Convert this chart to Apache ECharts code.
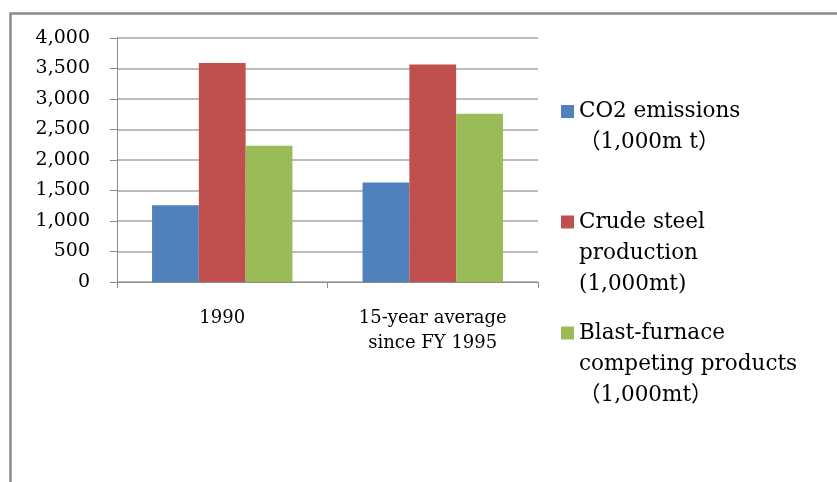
<!DOCTYPE html>
<html>
<head>
<meta charset="utf-8">
<script src="https://cdn.jsdelivr.net/npm/echarts@6/dist/echarts.min.js"></script>
<style>
  html, body { margin: 0; padding: 0; background: #ffffff; }
  #chart { width: 837px; height: 482px; }
</style>
</head>
<body>
<div id="chart"></div>
<script>
// Categories and series values (thousand tonnes)
const categories = ['1990', '15-year average\nsince FY 1995'];
const co2Emissions = [1260, 1630];
const crudeSteel = [3590, 3565];
const blastFurnaceCompeting = [2235, 2760];

const seriesNames = [
  'CO2 emissions\n（1,000m t）',
  'Crude steel\nproduction\n(1,000mt)',
  'Blast-furnace\ncompeting products\n（1,000mt）'
];
const seriesColors = ['#4F81BD', '#C0504D', '#9BBB59'];

const yMin = 0, yMax = 4000, yStep = 500;

const FONT = '"DejaVu Serif", "Noto Sans CJK JP", serif';
const LEGEND_LINE = 31;

// One legend block per series; blank lines are prepended so the
// square marker lines up with the first line of a multi-line name
function legendBlock(name, centerY) {
  const lines = name.split('\n').length;
  return {
    orient: 'vertical',
    left: 561,
    top: centerY - (2 * lines - 1) * LEGEND_LINE / 2,
    padding: 0,
    itemWidth: 13,
    itemHeight: 13,
    icon: 'rect',
    data: [name],
    formatter: n => ' \n'.repeat(lines - 1) + n,
    textStyle: {
      fontFamily: FONT,
      fontSize: 21.5,
      color: '#000000',
      lineHeight: LEGEND_LINE
    }
  };
}

const chart = echarts.init(document.getElementById('chart'), null, { renderer: 'canvas' });

chart.setOption({
  animation: false,
  backgroundColor: '#ffffff',
  color: seriesColors,
  graphic: [{
    type: 'polyline',
    shape: { points: [[10.5, 482], [10.5, 13.5], [837, 13.5]] },
    style: { stroke: '#8c8c8c', lineWidth: 2.5, fill: null }
  }],
  legend: [
    legendBlock(seriesNames[0], 111.5),
    legendBlock(seriesNames[1], 222),
    legendBlock(seriesNames[2], 333)
  ],
  grid: { left: 117, right: 299, top: 38, bottom: 200, containLabel: false },
  xAxis: {
    type: 'category',
    data: categories,
    axisLine: { show: true, lineStyle: { color: '#8c8c8c', width: 1 } },
    axisTick: { show: true, length: 6, alignWithLabel: false, lineStyle: { color: '#8c8c8c' } },
    axisLabel: {
      interval: 0,
      margin: 24,
      fontFamily: FONT,
      fontSize: 18,
      lineHeight: 25,
      color: '#000000'
    },
    splitLine: { show: false }
  },
  yAxis: {
    type: 'value',
    min: yMin,
    max: yMax,
    interval: yStep,
    axisLine: { show: true, lineStyle: { color: '#8c8c8c', width: 1 } },
    axisTick: { show: true, length: 7, lineStyle: { color: '#8c8c8c' } },
    axisLabel: {
      margin: 27,
      fontFamily: FONT,
      fontSize: 19,
      color: '#000000',
      formatter: v => v.toLocaleString('en-US')
    },
    splitLine: { show: true, lineStyle: { color: '#a6a6a6', width: 1.5 } }
  },
  series: [
    { name: seriesNames[0], type: 'bar', data: co2Emissions, barGap: '0%', barCategoryGap: '33.3%' },
    { name: seriesNames[1], type: 'bar', data: crudeSteel, barGap: '0%', barCategoryGap: '33.3%' },
    { name: seriesNames[2], type: 'bar', data: blastFurnaceCompeting, barGap: '0%', barCategoryGap: '33.3%' }
  ]
});
</script>
</body>
</html>
